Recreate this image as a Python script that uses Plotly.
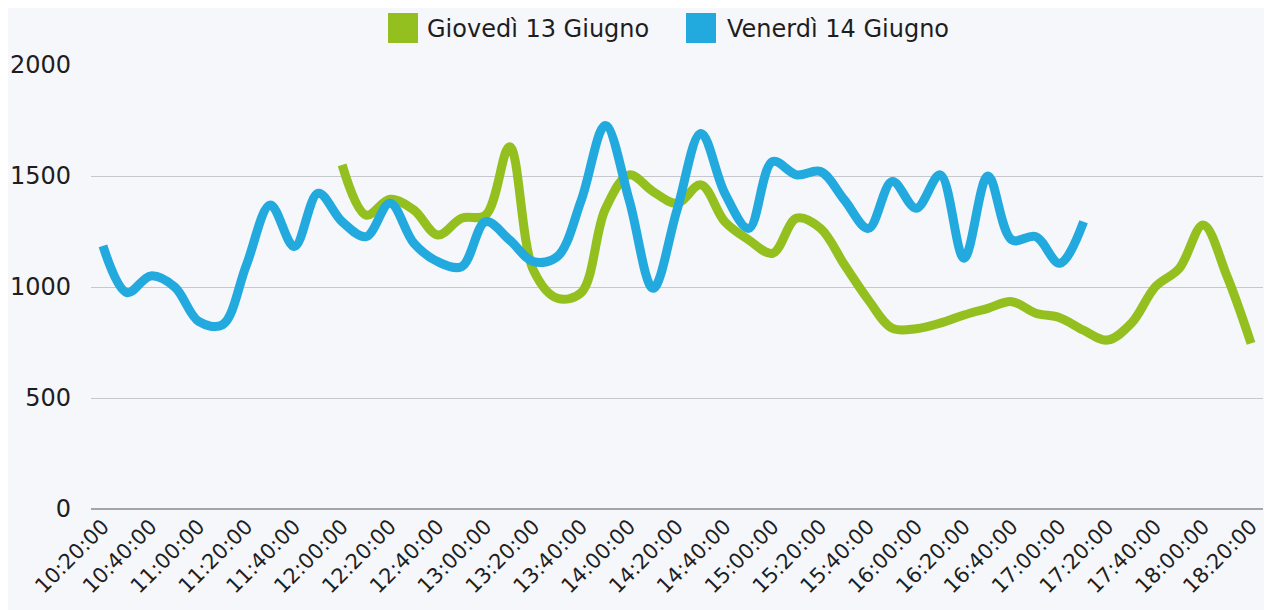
import plotly.graph_objects as go

# 10-minute categories from 10:20:00 to 18:20:00
categories = ["10:20:00", "10:30:00", "10:40:00", "10:50:00", "11:00:00", "11:10:00",
              "11:20:00", "11:30:00", "11:40:00", "11:50:00", "12:00:00", "12:10:00",
              "12:20:00", "12:30:00", "12:40:00", "12:50:00", "13:00:00", "13:10:00",
              "13:20:00", "13:30:00", "13:40:00", "13:50:00", "14:00:00", "14:10:00",
              "14:20:00", "14:30:00", "14:40:00", "14:50:00", "15:00:00", "15:10:00",
              "15:20:00", "15:30:00", "15:40:00", "15:50:00", "16:00:00", "16:10:00",
              "16:20:00", "16:30:00", "16:40:00", "16:50:00", "17:00:00", "17:10:00",
              "17:20:00", "17:30:00", "17:40:00", "17:50:00", "18:00:00", "18:10:00",
              "18:20:00"]

tick_labels = categories[::2]

giovedi = [None] * 10 + [1550, 1324, 1395, 1347, 1234, 1310, 1324, 1632, 1075, 949,
                         975, 1350, 1505, 1430, 1377, 1460, 1294, 1212, 1152, 1310,
                         1264, 1100, 942, 814, 812, 837, 874, 904, 934, 882,
                         862, 805, 761, 837, 1001, 1084, 1279, 1047, 746]

venerdi = [1185, 975, 1050, 1000, 845, 830, 1100, 1369, 1182, 1422,
           1294, 1227, 1377, 1197, 1114, 1092, 1294, 1212, 1114, 1137,
           1392, 1727, 1392, 994, 1347, 1692, 1422, 1264, 1565, 1505,
           1520, 1392, 1264, 1475, 1355, 1505, 1130, 1500, 1212, 1227,
           1107, 1294] + [None] * 7

series_names = ["Giovedì 13 Giugno", "Venerdì 14 Giugno"]
colors = ["#93C01F", "#22A9DE"]

BG = "#F5F7FB"
FONT = "DejaVu Sans"
TXT = "#1E1E1E"

# page offset of the figure div (browser body margin)
OFF = 8
FIG_W, FIG_H = 1272 - OFF, 610 - OFF

fig = go.Figure()
for name, ys, col in zip(series_names, [giovedi, venerdi], colors):
    fig.add_trace(go.Scatter(
        x=categories, y=ys, name=name, mode="lines",
        line=dict(color=col, width=9, shape="spline", smoothing=1.0),
        connectgaps=False, showlegend=False,
    ))

# plot area in page pixels
L, T, W, H = 91, 65, 1172, 444
def px_x(p):
    return (p - L) / W
def px_y(p):
    return (T + H - p) / H

legend_items = [(388, 425), (686, 725)]
for (sx, tx), name, col in zip(legend_items, series_names, colors):
    fig.add_shape(type="rect", xref="paper", yref="paper",
                  x0=px_x(sx), x1=px_x(sx + 30), y0=px_y(43), y1=px_y(13),
                  fillcolor=col, line=dict(width=0))
    fig.add_annotation(xref="paper", yref="paper", x=px_x(tx), y=px_y(29),
                       text=name, showarrow=False, xanchor="left", yanchor="middle",
                       font=dict(family=FONT, size=24, color=TXT))

fig.update_layout(
    width=FIG_W, height=FIG_H,
    margin=dict(l=L - OFF, r=FIG_W - (L - OFF) - W, t=T - OFF, b=FIG_H - (T - OFF) - H,
                autoexpand=False),
    paper_bgcolor=BG, plot_bgcolor=BG,
    font=dict(family=FONT, color=TXT),
    showlegend=False,
)
fig.update_xaxes(
    type="category", categoryorder="array", categoryarray=categories,
    range=[-0.5, len(categories) - 0.5],
    tickmode="array", tickvals=tick_labels, ticktext=tick_labels,
    tickangle=-45, tickfont=dict(family=FONT, size=21, color=TXT),
    showgrid=False, showline=False, zeroline=False, automargin=False,
)
fig.update_yaxes(
    range=[0, 2000], tickvals=[0, 500, 1000, 1500, 2000],
    tickfont=dict(family=FONT, size=24, color=TXT),
    showgrid=True, gridcolor="#C6C8CE", gridwidth=1,
    zeroline=True, zerolinecolor="#A3A5AA", zerolinewidth=2,
    ticklabelstandoff=19, automargin=False,
)

fig.write_html("out.html")
